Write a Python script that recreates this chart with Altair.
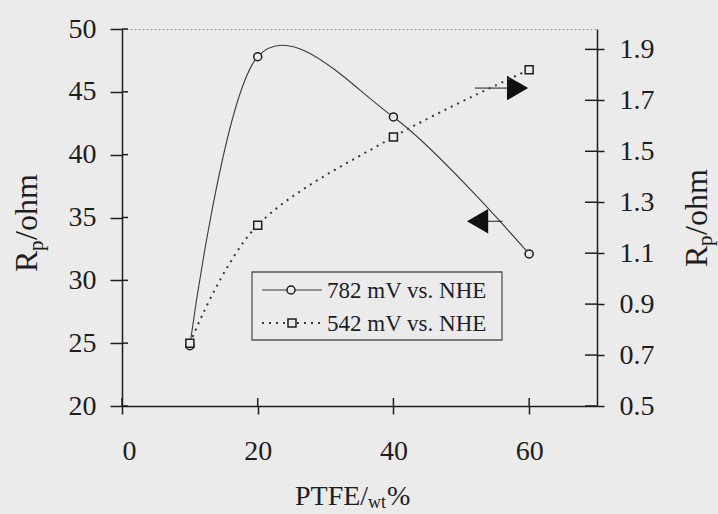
import altair as alt
import pandas as pd

# ---- values ----
ptfe_wt = [10, 20, 40, 60]
rp_782mV = [24.8, 47.8, 43.0, 32.1]        # left axis (ohm)
rp_542mV = [0.746, 1.21, 1.556, 1.82]      # right axis (ohm)
legend_labels = ["782 mV vs. NHE", "542 mV vs. NHE"]
x_tick_values = [0, 20, 40, 60]
left_tick_values = [20, 25, 30, 35, 40, 45, 50]
right_tick_values = [0.5, 0.7, 0.9, 1.1, 1.3, 1.5, 1.7, 1.9]
arrow_x = [52.4, 58.3]
arrow_tail_x = [56.1, 52.0]
arrow_y = [34.7, 45.3]
arrow_shape = ["triangle-left", "triangle-right"]
title_y_parts = ["R", "p", "/ohm"]
title_x_parts = ["PTFE/", "wt", "%"]

W, H = 475, 377
FONT = "Liberation Serif"
INK = "#1e1e1e"
LINE = "#3a3a3a"
BG = "#ebebeb"

df1 = pd.DataFrame({"x": ptfe_wt, "y": rp_782mV})
df2 = pd.DataFrame({"x": ptfe_wt, "y": rp_542mV})
df_lt = pd.DataFrame({"y": left_tick_values})
df_rt = pd.DataFrame({"y": right_tick_values})
df_xt = pd.DataFrame({"x": x_tick_values})
df_arrow = pd.DataFrame({"x": arrow_x, "x2": arrow_tail_x, "y": arrow_y, "shape": arrow_shape})
df_one = pd.DataFrame({"k": [0]})

axis_common = dict(grid=False, title=None, labelFont=FONT, labelColor=INK,
                   domainColor=INK, tickColor=INK, domainWidth=1.5, tickWidth=1.5)

xscale = alt.Scale(domain=[0, 70], nice=False, zero=False)
xaxis = alt.Axis(values=x_tick_values, tickSize=8, labelFontSize=28, labelPadding=23, **axis_common)
X = alt.X("x:Q", scale=xscale, axis=xaxis)

lscale = alt.Scale(domain=[20, 50], nice=False, zero=False)
laxis = alt.Axis(orient="left", values=left_tick_values, tickSize=12, labelFontSize=28,
                 labelPadding=14, **axis_common)
YL = alt.Y("y:Q", scale=lscale, axis=laxis)

rscale = alt.Scale(domain=[0.5, 1.98], nice=False, zero=False)
raxis = alt.Axis(orient="right", values=right_tick_values, format=".1f", tickSize=7,
                 labelFontSize=28, labelPadding=15, **axis_common)
YR = alt.Y("y:Q", scale=rscale, axis=raxis)

# ---- left-axis group ----
line1 = alt.Chart(df1).mark_line(interpolate="cardinal", color=LINE, strokeWidth=1.1).encode(x=X, y=YL)
pts1 = alt.Chart(df1).mark_point(shape="circle", size=64, fill=BG, stroke=INK, strokeWidth=1.5,
                                 fillOpacity=1, opacity=1).encode(x=X, y=YL)
ticks_l = alt.Chart(df_lt).mark_rule(color=INK, strokeWidth=1.5).encode(
    x=alt.value(0), x2=alt.value(6), y=YL)
ticks_x = alt.Chart(df_xt).mark_rule(color=INK, strokeWidth=1.5).encode(
    x=X, y=alt.value(H - 8), y2=alt.value(H))
tails = alt.Chart(df_arrow).mark_rule(color=INK, strokeWidth=1).encode(x=X, x2="x2:Q", y=YL)
heads = alt.Chart(df_arrow).mark_point(filled=True, size=600, color="#111111", opacity=1).encode(
    x=X, y=YL, shape=alt.Shape("shape:N", scale=None))

legend_box = alt.Chart(df_one).mark_rect(fill=BG, stroke="#555555", strokeWidth=1.3).encode(
    x=alt.value(130), x2=alt.value(380), y=alt.value(243), y2=alt.value(311))
leg1_line = alt.Chart(df_one).mark_rule(color=LINE, strokeWidth=1.1).encode(
    x=alt.value(140), x2=alt.value(200), y=alt.value(261))
leg1_pt = alt.Chart(df_one).mark_point(shape="circle", size=64, fill=BG, stroke=INK, strokeWidth=1.5,
                                       fillOpacity=1, opacity=1).encode(x=alt.value(169), y=alt.value(261))
leg1_txt = alt.Chart(pd.DataFrame({"t": [legend_labels[0]]})).mark_text(
    align="left", baseline="middle", font=FONT, fontSize=23, color=INK).encode(
    x=alt.value(205), y=alt.value(262), text="t:N")
leg2_line = alt.Chart(df_one).mark_rule(color=LINE, strokeWidth=2, strokeDash=[2, 5]).encode(
    x=alt.value(140), x2=alt.value(200), y=alt.value(294))
leg2_pt = alt.Chart(df_one).mark_point(shape="square", size=64, fill=BG, stroke=INK, strokeWidth=1.5,
                                       fillOpacity=1, opacity=1).encode(x=alt.value(170), y=alt.value(294))
leg2_txt = alt.Chart(pd.DataFrame({"t": [legend_labels[1]]})).mark_text(
    align="left", baseline="middle", font=FONT, fontSize=23, color=INK).encode(
    x=alt.value(205), y=alt.value(295), text="t:N")


def txt(s, x, y, size, angle=0):
    return alt.Chart(pd.DataFrame({"t": [s]})).mark_text(
        align="left", baseline="alphabetic", font=FONT, fontSize=size, color=INK, angle=angle).encode(
        x=alt.value(x), y=alt.value(y), text="t:N")


# y titles (rotated, composed with subscript p)
ytl = [txt(title_y_parts[0], -85, 243, 32, 270),
       txt(title_y_parts[1], -79, 222, 21, 270),
       txt(title_y_parts[2], -85, 211, 32, 270)]
ytr = [txt(title_y_parts[0], 585, 238, 32, 270),
       txt(title_y_parts[1], 590, 217, 21, 270),
       txt(title_y_parts[2], 585, 206, 32, 270)]
# x title with subscript wt
xt = [txt(title_x_parts[0], 173, 476, 28),
      txt(title_x_parts[1], 246, 479, 18),
      txt(title_x_parts[2], 265, 476, 28)]

left_group = alt.layer(line1, pts1, ticks_l, ticks_x, tails, heads,
                       legend_box, leg1_line, leg1_pt, leg1_txt, leg2_line, leg2_pt, leg2_txt,
                       *ytl, *ytr, *xt)

# ---- right-axis group ----
line2 = alt.Chart(df2).mark_line(interpolate="cardinal", color=LINE, strokeWidth=2,
                                 strokeDash=[2, 5]).encode(x=X, y=YR)
pts2 = alt.Chart(df2).mark_point(shape="square", size=64, fill=BG, stroke=INK, strokeWidth=1.5,
                                 fillOpacity=1, opacity=1).encode(x=X, y=YR)
ticks_r = alt.Chart(df_rt).mark_rule(color=INK, strokeWidth=1.5).encode(
    x=alt.value(W - 12), x2=alt.value(W), y=YR)
right_group = alt.layer(line2, pts2, ticks_r)

chart = alt.layer(left_group, right_group).resolve_scale(y="independent").properties(
    width=W, height=H, background=BG,
    padding={"left": 122, "top": 29, "right": 121, "bottom": 108},
    autosize=alt.AutoSizeParams(type="none"),
).configure_view(stroke="#9a9a9a", strokeDash=[2, 2], strokeWidth=1)

chart.save("out.html", embed_options={"renderer": "svg", "actions": False})
